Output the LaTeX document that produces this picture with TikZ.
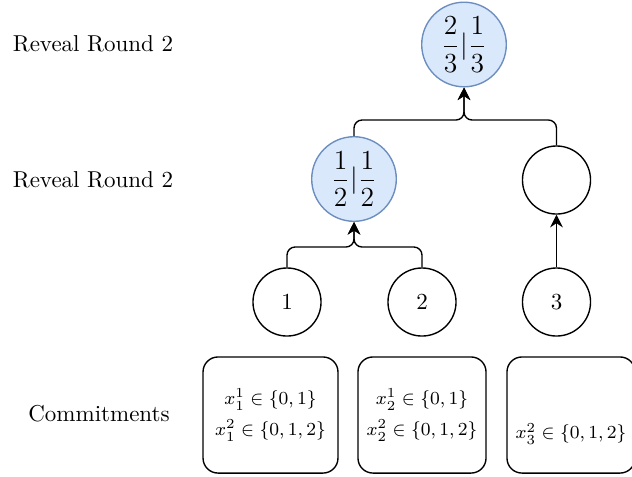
\documentclass[tikz,border=0pt]{standalone}
\usepackage{amsmath}
\usetikzlibrary{arrows.meta}
\definecolor{votefill}{HTML}{DAE8FC}
\definecolor{votedraw}{HTML}{6C8EBF}
\begin{document}
\begin{tikzpicture}[x=0.435pt, y=-0.435pt, line width=0.6pt,
    vote/.style={draw=votedraw, fill=votefill, circle, inner sep=0pt, minimum size=36.8pt, font=\large},
    party/.style={draw, circle, inner sep=0pt, minimum size=29.6pt},
    commit/.style={draw, rounded corners=6.5pt, inner sep=0pt, align=center,
        font=\fontsize{8.5}{13.5}\selectfont, minimum height=50.5pt},
    link/.style={-{Stealth[length=5.5pt, width=5.5pt, inset=1.8pt]}, rounded corners=3.5pt}]
    \useasboundingbox (0,0) rectangle (632,476);
    % row labels
    \node (lab0) at (93,44) {Reveal Round 2};
    \node (lab1) at (93,180) {Reveal Round 2};
    \node (lab2) at (99,414) {Commitments};
    % tree
    \node[vote] (top) at (464,44.5) {$\dfrac{2}{3}|\dfrac{1}{3}$};
    \node[vote] (m1) at (354,179) {$\dfrac{1}{2}|\dfrac{1}{2}$};
    \node[party] (m2) at (556.5,180) {};
    \node[party] (p1) at (287,302) {1};
    \node[party] (p2) at (422,302) {2};
    \node[party] (p3) at (556.5,302) {3};
    % commitments
    \node[commit, minimum width=58.7pt] (c1) at (270.5,415)
        {$x_1^1 \in \{0,1\}$\\ $x_1^2 \in \{0,1,2\}$};
    \node[commit, minimum width=55.7pt] (c2) at (422,415)
        {$x_2^1 \in \{0,1\}$\\ $x_2^2 \in \{0,1,2\}$};
    \node[commit, minimum width=55.7pt] (c3) at (571,415)
        {\strut\\ $x_3^2 \in \{0,1,2\}$};
    % junctions
    \coordinate (j0) at (464,120);
    \coordinate (j1) at (354,247);
    \draw[link] (m1.north) |- (j0) -- (top.south);
    \draw[link] (m2.north) |- (j0) -- (top.south);
    \draw[link] (p1.north) |- (j1) -- (m1.south);
    \draw[link] (p2.north) |- (j1) -- (m1.south);
    \draw[link] (p3) -- (m2);
\end{tikzpicture}
\end{document}
